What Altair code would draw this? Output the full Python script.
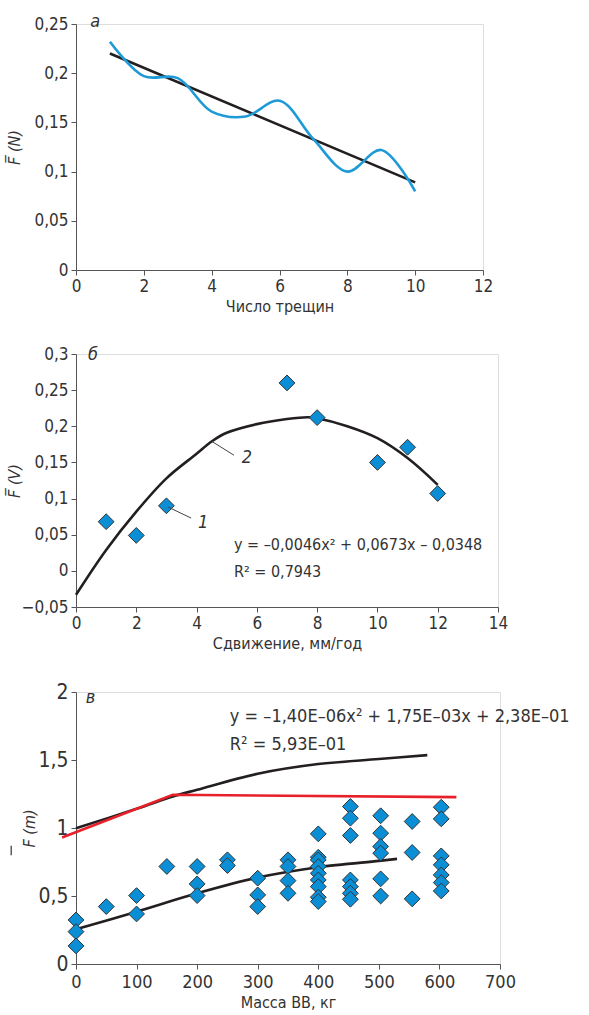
import altair as alt
import pandas as pd

FONT = "DejaVu Sans Condensed, Roboto Condensed, Liberation Sans Narrow, Roboto, sans-serif"
TXT = "#333333"
AX = "#555555"
BLUE_LINE = "#1E9ad6"
BLUE_PT = "#0a8fd6"
BLACK = "#231f20"
RED = "#e8202a"

# ---------- panel a ----------
a_x = [1, 2, 3, 4, 5, 6, 7, 8, 9, 10]
a_y = [0.232, 0.197, 0.195, 0.161, 0.156, 0.172, 0.133, 0.100, 0.122, 0.080]
a_trend_x = [1, 10]
a_trend_y = [0.220, 0.089]
a_xticks = [0, 2, 4, 6, 8, 10, 12]
a_yticks = [0, 0.05, 0.1, 0.15, 0.2, 0.25]

# ---------- panel b ----------
b_x = [1, 2, 3, 7, 8, 10, 11, 12]
b_y = [0.068, 0.049, 0.090, 0.260, 0.212, 0.150, 0.171, 0.107]
b_curve_x = [0, 1, 2, 3, 4, 4.5, 5, 6, 7, 7.7, 8, 9, 10, 11, 12]
b_curve_y = [-0.033, 0.029, 0.082, 0.128, 0.162, 0.179, 0.191, 0.203, 0.210,
             0.2125, 0.211, 0.200, 0.1835, 0.156, 0.119]
b_xticks = [0, 2, 4, 6, 8, 10, 12, 14]
b_yticks = [-0.05, 0, 0.05, 0.1, 0.15, 0.2, 0.25, 0.3]
b_eq = "y = –0,0046x² + 0,0673x – 0,0348"
b_r2 = "R² = 0,7943"

# ---------- panel c ----------
c_x = [0, 0, 0, 50, 100, 100, 150, 200, 200, 200, 250, 250,
       300, 300, 300, 350, 350, 350, 350,
       400, 400, 400, 400, 400, 400, 400, 400, 400,
       453, 453, 453, 453, 453, 453, 453,
       503, 503, 503, 503, 503, 503,
       555, 555, 555,
       603, 603, 603, 603, 603, 603, 603]
c_y = [0.324, 0.238, 0.133, 0.422, 0.503, 0.368, 0.717, 0.717, 0.589, 0.503, 0.766, 0.724,
       0.631, 0.508, 0.422, 0.766, 0.717, 0.613, 0.520,
       0.957, 0.785, 0.765, 0.717, 0.667, 0.618, 0.569, 0.491, 0.459,
       1.158, 1.072, 0.945, 0.618, 0.569, 0.520, 0.476,
       1.090, 0.962, 0.864, 0.815, 0.626, 0.500,
       1.048, 0.820, 0.479,
       1.153, 1.067, 0.795, 0.729, 0.655, 0.599, 0.537]
c_low_x = [0, 100, 200, 300, 400, 500, 530]
c_low_y = [0.255, 0.385, 0.520, 0.636, 0.712, 0.758, 0.773]
c_up_x = [0, 100, 160, 200, 300, 400, 500, 580]
c_up_y = [0.999, 1.141, 1.232, 1.281, 1.399, 1.470, 1.507, 1.536]
c_red_x = [-23, 160, 628]
c_red_y = [0.930, 1.244, 1.227]
c_xticks = [0, 100, 200, 300, 400, 500, 600, 700]
c_yticks = [0, 0.5, 1, 1.5, 2]
c_eq = "y = –1,40E–06x² + 1,75E–03x + 2,38E–01"
c_r2 = "R² = 5,93E–01"

COMMA = "replace(datum.label, '.', ',')"


def xaxis(title, ticks, lsize=17, lpad=3, tpad=4):
    return alt.Axis(title=title, values=ticks, grid=False, domainColor=AX, tickColor=AX,
                    tickSize=5, labelFont=FONT, labelFontSize=lsize, labelColor=TXT,
                    labelPadding=lpad, titleFont=FONT, titleFontSize=16, titleColor=TXT,
                    titleFontWeight="normal", titlePadding=tpad, labelFlush=False,
                    labelOverlap=False)


def yaxis(title, ticks, lsize=17, tx=-54):
    return alt.Axis(title=title, values=ticks, grid=False, domainColor=AX, tickColor=AX,
                    tickSize=5, labelFont=FONT, labelFontSize=lsize, labelColor=TXT,
                    labelPadding=3, format=".2~f", labelExpr=COMMA, titleFont=FONT,
                    titleFontSize=16, titleColor=TXT, titleFontWeight="normal",
                    titleFontStyle="italic", titleX=tx, labelFlush=False, labelOverlap=False)


def text_layer(df, X, Y, size=16, italic=False):
    return alt.Chart(df).mark_text(font=FONT, fontSize=size, color=TXT, align="left",
                                   baseline="middle",
                                   fontStyle="italic" if italic else "normal").encode(
        x=X, y=Y, text="t:N")


def diamonds(df, X, Y):
    return alt.Chart(df).mark_point(shape="diamond", filled=True, size=250, fill=BLUE_PT,
                                    stroke="#333333", strokeWidth=1, opacity=1).encode(x=X, y=Y)


# ---- chart a ----
da = pd.DataFrame({"x": a_x, "y": a_y})
dta = pd.DataFrame({"x": a_trend_x, "y": a_trend_y})
xa = alt.X("x:Q", scale=alt.Scale(domain=[0, 12], nice=False), axis=xaxis("Число трещин", a_xticks))
ya = alt.Y("y:Q", scale=alt.Scale(domain=[0, 0.25], nice=False),
           axis=yaxis("F\u0305 (N)", a_yticks))
a_line = alt.Chart(da).mark_line(color=BLUE_LINE, strokeWidth=2.6, interpolate="catmull-rom").encode(x=xa, y=ya)
a_tr = alt.Chart(dta).mark_line(color=BLACK, strokeWidth=2.6).encode(x=xa, y=ya)
a_lab = text_layer(pd.DataFrame({"x": [0.42], "y": [0.252], "t": ["а"]}), xa, ya, 18, True)
chart_a = alt.layer(a_tr, a_line, a_lab).properties(width=407, height=246)

# ---- chart b ----
db = pd.DataFrame({"x": b_x, "y": b_y})
dcb = pd.DataFrame({"x": b_curve_x, "y": b_curve_y})
xb = alt.X("x:Q", scale=alt.Scale(domain=[0, 14], nice=False), axis=xaxis("Сдвижение, мм/год", b_xticks))
yb = alt.Y("y:Q", scale=alt.Scale(domain=[-0.05, 0.3], nice=False),
           axis=yaxis("F\u0305 (V)", b_yticks))
b_curve = alt.Chart(dcb).mark_line(color=BLACK, strokeWidth=2.6, interpolate="catmull-rom").encode(x=xb, y=yb)
b_pts = diamonds(db, xb, yb)
lead = pd.DataFrame({"x": [4.51, 5.24, 3.05, 3.82], "y": [0.179, 0.160, 0.0884, 0.073],
                     "g": ["2", "2", "1", "1"]})
b_lead = alt.Chart(lead).mark_line(color="#444444", strokeWidth=1).encode(x=xb, y=yb, detail="g:N")
b_nums = text_layer(pd.DataFrame({"x": [5.50, 4.05], "y": [0.156, 0.066], "t": ["2", "1"]}), xb, yb, 18, True)
b_eqs = text_layer(pd.DataFrame({"x": [5.24, 5.24], "y": [0.036, -0.002], "t": [b_eq, b_r2]}), xb, yb, 16)
b_lab = text_layer(pd.DataFrame({"x": [0.40], "y": [0.2986], "t": ["б"]}), xb, yb, 18, True)
chart_b = alt.layer(b_curve, b_pts, b_lead, b_nums, b_eqs, b_lab).properties(width=422, height=253)

# ---- chart c ----
dc = pd.DataFrame({"x": c_x, "y": c_y})
dlow = pd.DataFrame({"x": c_low_x, "y": c_low_y})
dup = pd.DataFrame({"x": c_up_x, "y": c_up_y})
dred = pd.DataFrame({"x": c_red_x, "y": c_red_y})
xc = alt.X("x:Q", scale=alt.Scale(domain=[0, 700], nice=False),
           axis=xaxis("Масса ВВ, кг", c_xticks, lsize=18, lpad=4, tpad=3))
yc = alt.Y("y:Q", scale=alt.Scale(domain=[0, 2], nice=False),
           axis=yaxis("F (m)", c_yticks, lsize=21, tx=-39))
c_up = alt.Chart(dup).mark_line(color=BLACK, strokeWidth=2.6, interpolate="catmull-rom").encode(x=xc, y=yc)
c_red = alt.Chart(dred).mark_line(color=RED, strokeWidth=2.6).encode(x=xc, y=yc)
c_low = alt.Chart(dlow).mark_line(color=BLACK, strokeWidth=2.6, interpolate="catmull-rom").encode(x=xc, y=yc)
c_pts = diamonds(dc, xc, yc)
c_bar = alt.Chart(pd.DataFrame({"x": [-107], "y": [0.80], "y2": [0.87]})).mark_rule(
    color=TXT, strokeWidth=1.2).encode(x=xc, y=yc, y2="y2:Q")
c_eqs = text_layer(pd.DataFrame({"x": [254, 254], "y": [1.818, 1.612], "t": [c_eq, c_r2]}), xc, yc, 18)
c_lab = text_layer(pd.DataFrame({"x": [16], "y": [1.955], "t": ["в"]}), xc, yc, 18, True)
chart_c = alt.layer(c_up, c_red, c_low, c_pts, c_bar, c_eqs, c_lab).properties(width=424, height=272)

top = alt.vconcat(chart_a, chart_b, spacing=29)
chart = alt.vconcat(top, chart_c, spacing=28).properties(
    padding={"left": 5, "top": 12, "right": 0, "bottom": 0}
).configure_view(stroke=None).configure_axis(labelOverlap=False).configure(background="white")

chart.save("out.html", embed_options={"renderer": "svg", "actions": False})
